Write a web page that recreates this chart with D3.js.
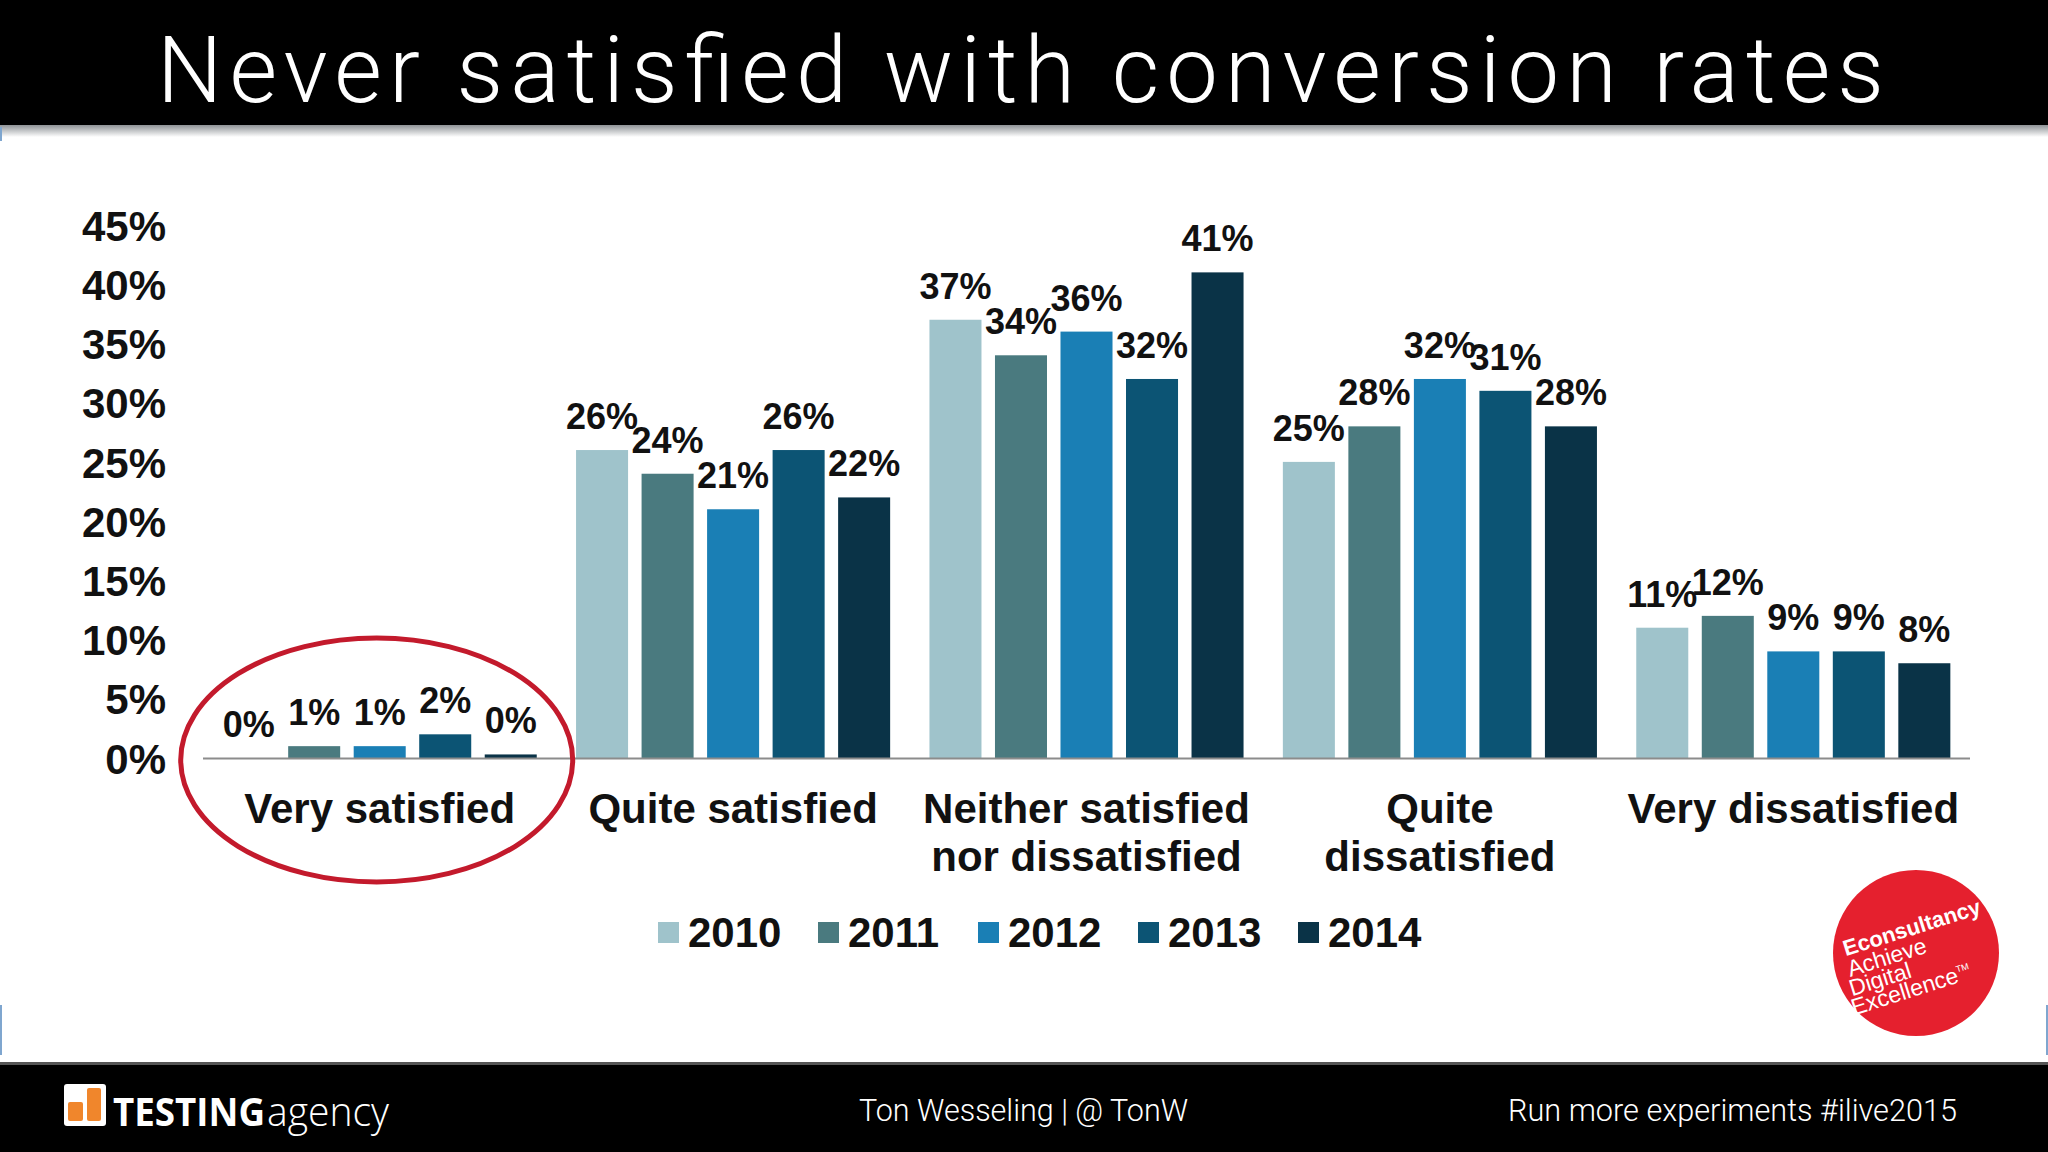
<!DOCTYPE html>
<html>
<head>
<meta charset="utf-8">
<script src="https://cdn.jsdelivr.net/npm/d3@7"></script>
<style>
  html, body { margin: 0; padding: 0; background: #fff; }
  svg { display: block; }
</style>
</head>
<body>
<svg id="chart" width="2048" height="1152"></svg>
<script>
// ---- data ----
const categories = ["Very satisfied", "Quite satisfied", "Neither satisfied\nnor dissatisfied", "Quite\ndissatisfied", "Very dissatisfied"];
const years = ["2010", "2011", "2012", "2013", "2014"];
const values2010 = [0, 26, 37, 25, 11];
const values2011 = [1, 24, 34, 28, 12];
const values2012 = [1, 21, 36, 32, 9];
const values2013 = [2, 26, 32, 31, 9];
const values2014 = [0.3, 22, 41, 28, 8];
const yTicks = [0, 5, 10, 15, 20, 25, 30, 35, 40, 45];
const colors = ["#9fc3cb", "#4a7a7f", "#1a7fb5", "#0c5474", "#0a3347"];

const series = [values2010, values2011, values2012, values2013, values2014];
const rows = [];
categories.forEach((c, ci) => years.forEach((yr, yi) => rows.push({cat: c, year: yr, value: series[yi][ci], yi})));

const svg = d3.select("#chart");
const W = 2048, H = 1152;
const bold = "'Liberation Sans', Arial, Helvetica, sans-serif";
const light = "Roboto, 'Open Sans', 'Liberation Sans', sans-serif";

// background
svg.append("rect").attr("width", W).attr("height", H).attr("fill", "#fff");

// title bar
const defs = svg.append("defs");
const g1 = defs.append("linearGradient").attr("id", "shade").attr("x1", 0).attr("y1", 0).attr("x2", 0).attr("y2", 1);
g1.append("stop").attr("offset", 0).attr("stop-color", "#8e9296");
g1.append("stop").attr("offset", 1).attr("stop-color", "#ffffff");
svg.append("rect").attr("x", 0).attr("y", 0).attr("width", W).attr("height", 125).attr("fill", "#000");
svg.append("rect").attr("x", 0).attr("y", 125).attr("width", W).attr("height", 12).attr("fill", "url(#shade)");
svg.append("rect").attr("x", 0).attr("y", 127).attr("width", 2).attr("height", 14).attr("fill", "#7fa6cf");
svg.append("rect").attr("x", 0).attr("y", 1005).attr("width", 2).attr("height", 50).attr("fill", "#7fa6cf");
svg.append("rect").attr("x", 2046).attr("y", 1005).attr("width", 2).attr("height", 50).attr("fill", "#7fa6cf");

svg.append("text")
  .attr("x", 157).attr("y", 102)
  .attr("textLength", 1727).attr("lengthAdjust", "spacing")
  .attr("fill", "#fff").attr("font-family", light).attr("font-weight", 300)
  .attr("font-size", 92)
  .text("Never satisfied with conversion rates");

// scales
const x0 = d3.scaleBand().domain(categories).range([203, 1970]).paddingInner(0).paddingOuter(0);
const x1 = d3.scaleBand().domain(years).range([0, x0.bandwidth()]).paddingInner(0.206).paddingOuter(0.3);
const y = d3.scaleLinear().domain([0, 45]).range([758, 225]);
const color = d3.scaleOrdinal().domain(years).range(colors);

// y axis
const yAxis = svg.append("g").attr("transform", "translate(166,0)")
  .call(d3.axisLeft(y).tickValues(yTicks).tickSize(0).tickPadding(0).tickFormat(d => d + "%"));
yAxis.select(".domain").remove();
yAxis.selectAll("text").attr("font-family", bold).attr("font-weight", "bold").attr("font-size", 42).attr("fill", "#111").attr("dy", "0.36em");

// bars
svg.append("g").selectAll("rect").data(rows).join("rect")
  .attr("x", d => x0(d.cat) + x1(d.year))
  .attr("y", d => y(d.value))
  .attr("width", x1.bandwidth())
  .attr("height", d => y(0) - y(d.value))
  .attr("fill", d => color(d.year));

// value labels
svg.append("g").selectAll("text").data(rows).join("text")
  .attr("x", d => x0(d.cat) + x1(d.year) + x1.bandwidth() / 2)
  .attr("y", d => y(d.value) - 21)
  .attr("text-anchor", "middle")
  .attr("font-family", bold).attr("font-weight", "bold").attr("font-size", 36).attr("fill", "#111")
  .text(d => Math.round(d.value) + "%");

// baseline
svg.append("line").attr("x1", x0.range()[0]).attr("x2", x0.range()[1]).attr("y1", y(0) + 0.5).attr("y2", y(0) + 0.5)
  .attr("stroke", "#8c8c8c").attr("stroke-width", 2);

// category labels
const xAxis = svg.append("g").attr("transform", `translate(0,${y(0)})`)
  .call(d3.axisBottom(x0).tickSize(0).tickFormat(""));
xAxis.select(".domain").remove();
xAxis.selectAll(".tick").each(function(d) {
  const t = d3.select(this).append("text").attr("fill", "#111").attr("text-anchor", "middle")
    .attr("font-family", bold).attr("font-weight", "bold").attr("font-size", 42);
  d.split("\n").forEach((line, i) => t.append("tspan").attr("x", 0).attr("y", 65 + i * 48).text(line));
});

// highlight ellipse
const vsx = x0(categories[0]);
svg.append("ellipse").attr("cx", vsx + x0.bandwidth() / 2 - 3).attr("cy", y(0) + 2).attr("rx", 196).attr("ry", 122)
  .attr("fill", "none").attr("stroke", "#c31a2c").attr("stroke-width", 5);

// legend
const legend = svg.append("g").selectAll("g").data(years).join("g")
  .attr("transform", (d, i) => `translate(${658 + i * 160},922)`);
legend.append("rect").attr("width", 21).attr("height", 21).attr("fill", d => color(d));
legend.append("text").attr("x", 30).attr("y", 25).attr("font-family", bold).attr("font-weight", "bold")
  .attr("font-size", 42).attr("fill", "#111").text(d => d);

// Econsultancy badge
const badge = svg.append("g").attr("transform", "translate(1916,953)");
badge.append("circle").attr("r", 83).attr("fill", "#e5202e");
const bt = badge.append("g").attr("transform", "rotate(-17.5)").attr("fill", "#fff").attr("font-family", bold);
bt.append("text").attr("x", -68).attr("y", -18).attr("font-weight", "bold").attr("font-size", 22).text("Econsultancy");
bt.append("text").attr("x", -70).attr("y", 3).attr("font-size", 23).text("Achieve");
bt.append("text").attr("x", -74).attr("y", 22).attr("font-size", 23).text("Digital");
const ex = bt.append("text").attr("x", -78).attr("y", 41).attr("font-size", 23).text("Excellence");
ex.append("tspan").attr("font-size", 9).attr("dy", -10).text("TM");

// footer
svg.append("rect").attr("x", 0).attr("y", 1062).attr("width", W).attr("height", 3).attr("fill", "#555");
svg.append("rect").attr("x", 0).attr("y", 1065).attr("width", W).attr("height", 87).attr("fill", "#000");
// logo icon
svg.append("rect").attr("x", 64).attr("y", 1084).attr("width", 42).attr("height", 42).attr("rx", 3).attr("fill", "#fff");
svg.append("rect").attr("x", 68).attr("y", 1102).attr("width", 15).attr("height", 19).attr("rx", 2).attr("fill", "#f0862c");
svg.append("rect").attr("x", 87).attr("y", 1088).attr("width", 14).attr("height", 33).attr("rx", 2).attr("fill", "#f0862c");
svg.append("text").attr("x", 113).attr("y", 1126).attr("textLength", 152).attr("lengthAdjust", "spacingAndGlyphs")
  .attr("font-family", "'Open Sans', sans-serif").attr("font-weight", "bold").attr("font-size", 39).attr("fill", "#fff").text("TESTING");
svg.append("text").attr("x", 267).attr("y", 1126).attr("textLength", 122).attr("lengthAdjust", "spacingAndGlyphs")
  .attr("font-family", "'Open Sans', sans-serif").attr("font-weight", 300).attr("font-size", 40).attr("fill", "#fff").text("agency");
svg.append("text").attr("x", 859).attr("y", 1121).attr("textLength", 329).attr("lengthAdjust", "spacingAndGlyphs")
  .attr("font-family", light).attr("font-weight", 300).attr("font-size", 32).attr("fill", "#fff").text("Ton Wesseling | @ TonW");
svg.append("text").attr("x", 1508).attr("y", 1121).attr("textLength", 449).attr("lengthAdjust", "spacingAndGlyphs")
  .attr("font-family", light).attr("font-weight", 300).attr("font-size", 32).attr("fill", "#fff").text("Run more experiments #ilive2015");
</script>
</body>
</html>
